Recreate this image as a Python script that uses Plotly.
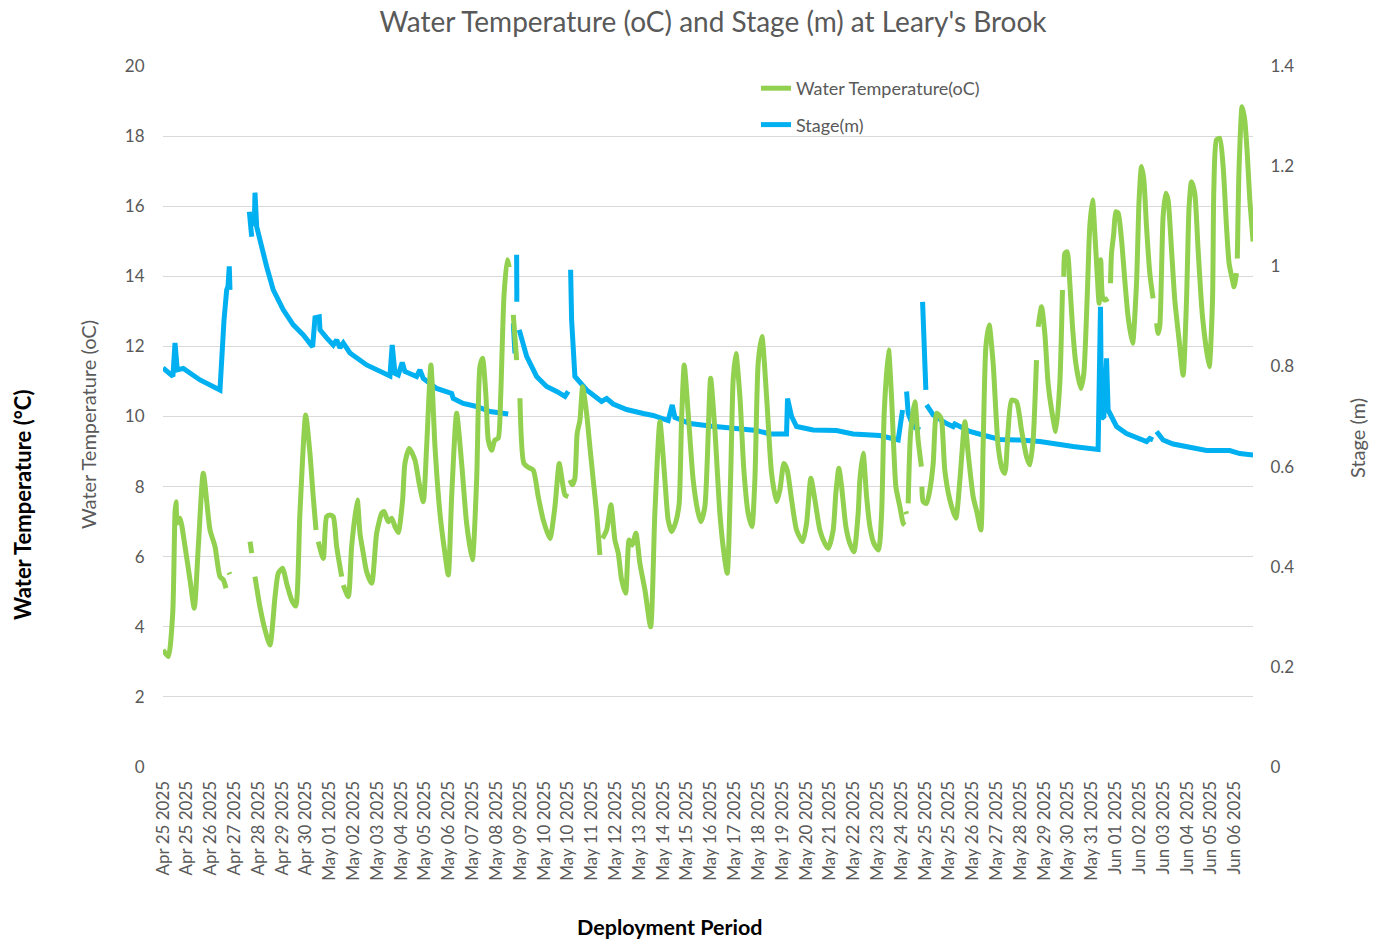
import plotly.graph_objects as go

FONT = "Lato, 'Open Sans', sans-serif"

# ---- category labels (one per day tick, 24 h apart) ----
tick_labels = [
    "Apr 25 2025", "Apr 25 2025", "Apr 26 2025", "Apr 27 2025", "Apr 28 2025", "Apr 29 2025", "Apr 30 2025",
    "May 01 2025", "May 02 2025", "May 03 2025", "May 04 2025", "May 05 2025", "May 06 2025", "May 07 2025",
    "May 08 2025", "May 09 2025", "May 10 2025", "May 10 2025", "May 11 2025", "May 12 2025", "May 13 2025",
    "May 14 2025", "May 15 2025", "May 16 2025", "May 17 2025", "May 18 2025", "May 19 2025", "May 20 2025",
    "May 21 2025", "May 22 2025", "May 23 2025", "May 24 2025", "May 25 2025", "May 25 2025", "May 26 2025",
    "May 27 2025", "May 28 2025", "May 29 2025", "May 30 2025", "May 31 2025", "Jun 01 2025", "Jun 02 2025",
    "Jun 03 2025", "Jun 04 2025", "Jun 05 2025", "Jun 06 2025",
]
tick_hours = [24 * i for i in range(len(tick_labels))]

# ---- water temperature (hours since start, deg C); None = gap in record ----
temp_hours = [
    0, 5.3, 9.8, 12.1, 13.1, 14.4, 17.1, 22.2, 27.2, 31.5, 35.6, 40.6, 47.4, 52.4, 57.4, 60.8, 63.5, None,
    66.5, 67.3, None,
    87.7, 89.4, None,
    92.7, 97.7, 102.8, 107.8, 112.9, 116.2, 120.6, 124.6, 129.7, 133.7, 138, 143.8, 148.1, 151.4, 154.2, None,
    156.5, 161.5, 164.9, 168.3, 171.6, 175, 180.1, None,
    181.7, 186.7, 190.1, 195.8, 198.5, 201.8, 205.2, 210.3, 215.3, 220.4, 222.7, 227, 230.4, 233.8, 237.1,
    241.5, 243.8, 248.2, 253.9, 258.2, 262.3, 265.7, 270, 274.1, 279.1, 284.1, 287.5, 290.9, 295.9, 301,
    306, 311.7, 316.1, 319.4, 322.1, 325.5, 327.8, 331.2, 334.5, 337.8, 340.3, 343.6, 346.9, 348.9, None,
    353, 356.4, None,
    359.7, 363.7, 368.1, 373.1, 378.2, 383.2, 389.9, 395, 399.3, 402.7, 405.1, 408.4, None,
    410.1, 412.6, 415.1, 417.4, 420.2, 422.9, 426.9, 430.2, 433.6, 437, 440.3, None,
    443, 447.1, 451.4, 455.4, 458.8, 462.2, 466.2, 469.8, 472.9, 476.6, 480.6, 485.7, 491.4, 495.7, 500.8,
    505.8, 509.1, 512.6, 516.9, 520.2, 522.6, 525.3, 529.3, 534.3, 539.4, 542.1, 546.1, 548.4, 551.9,
    556.2, 561.2, 565.3, 568.6, 572, 574.6, 577.4, 581.4, 585.4, 589.7, 593.5, 596.5, 599.8, 603.6, 608.3,
    613.3, 618.4, 621.7, 625.7, 629.1, 633.5, 638.5, 644.6, 648.6, 652.9, 657, 662, 667, 670.4, 675.4,
    678.1, 681.1, 683.9, 688.2, 692.2, 696.3, 700.6, 702.3, 705.6, 709.1, 712.4, 716.4, 721.1, 724.2,
    726.8, 731.2, 734.2, 738.6, 742.6, 746, 747.6, None,
    748.6, 749.4, None,
    751, 753.4, 757.7, 761, 764.3, None,
    764.8, 766.1, 769.5, 772.8, 776.2, 779.6, 782.2, 784.6, 787.9, 793, 799, 803.1, 808.1, 811.4, 816.5,
    820.5, 824.2, 826.5, 829.3, 832.6, 836.6, 841.7, 846.1, 848.4, 851.7, 855.2, 860.2, 865.2, 870.3,
    873.6, 876.9, 880.3, None,
    882, 885.4, 888.7, 892, 895.5, 899.8, 903.8, 906.5, None,
    907.8, 908.9, 911.2, 913.9, 916.6, 919.9, 925, 928, 931.3, 934, 936.8, 939.1, 941.4, 943.4, 945.1,
    946.8, 949.2, 952.5, None,
    954.9, 955.9, 958.2, 960.2, 962.6, 966, 969.3, 972.6, 977.1, 981.1, 983.7, 986.1, 988.5, 991.2, 994.5,
    997.8, None,
    1001.3, 1002.9, 1004.6, 1007.9, 1010.6, 1012.9, 1016.4, 1019.7, 1024, 1028.1, 1031.5, 1034.1, 1036.5,
    1039.8, 1043.2, 1047.6, 1054.3, 1057.7, 1059, 1061.7, 1065, 1068.4, 1071.8, 1074.4, 1077.8, 1079.4,
    1081.9, None,
    1082.7, 1084.5, 1087.5, 1090.2, 1092.5, 1095.3, 1098.6,
]
temp_c = [
    3.34, 3.15, 4.38, 7.25, 7.57, 6.96, 7.10, 6.29, 5.34, 4.53, 6.29, 8.38, 6.76, 6.29, 5.43, 5.34, 5.10, None,
    5.55, 5.50, None,
    6.43, 6.10, None,
    5.43, 4.57, 3.91, 3.48, 4.86, 5.53, 5.67, 5.24, 4.76, 4.59, 7.24, 10.04, 8.95, 7.71, 6.76, None,
    6.43, 5.95, 7.14, 7.19, 7.14, 6.29, 5.43, None,
    5.19, 4.86, 6.29, 7.62, 6.67, 6.10, 5.57, 5.24, 6.67, 7.24, 7.29, 7.0, 7.1, 6.86, 6.69,
    7.62, 8.66, 9.09, 8.76, 8.09, 7.57, 9.14, 11.47, 9.14, 7.24, 6.10, 5.48, 7.71, 10.09, 8.66,
    6.95, 5.91, 8.19, 11.42, 11.66, 10.57, 9.33, 9.04, 9.33, 9.38, 10.57, 13.42, 14.47, 14.26, None,
    12.90, 11.61, None,
    10.52, 8.66, 8.55, 8.47, 7.71, 7.05, 6.52, 7.43, 8.66, 8.09, 7.76, 7.71, None,
    8.19, 8.05, 8.24, 9.52, 9.90, 10.85, 10.09, 9.14, 8.19, 7.24, 6.05, None,
    6.52, 6.76, 7.48, 6.48, 6.10, 5.34, 4.96, 6.48, 6.33, 6.67, 5.81, 5.05, 4.00, 7.24, 9.85,
    8.19, 7.05, 6.71, 7.0, 7.52, 9.90, 11.47, 10.09, 8.19, 7.24, 7.0, 7.43, 8.66, 11.09,
    9.61, 7.24, 6.10, 5.53, 8.19, 11.04, 11.80, 10.57, 8.47, 7.24, 6.86, 8.19, 11.52, 12.28, 10.57,
    8.38, 7.57, 7.90, 8.66, 8.47, 7.62, 6.76, 6.43, 6.95, 8.24, 7.62, 6.76, 6.38, 6.24, 6.76,
    7.81, 8.52, 8.0, 6.86, 6.38, 6.14, 7.24, 8.19, 8.95, 7.71, 6.86, 6.38, 6.19, 7.24,
    10.09, 11.90, 10.57, 8.0, 7.43, 6.95, 6.90, None,
    7.29, 7.22, None,
    7.52, 9.52, 10.42, 9.33, 8.57, None,
    8.0, 7.57, 7.52, 7.9, 8.66, 10.09, 10.04, 9.90, 8.47, 7.62, 7.10, 8.19, 9.85, 8.95, 7.71,
    7.24, 6.76, 9.14, 11.99, 12.61, 11.52, 9.14, 8.47, 8.38, 9.61, 10.47, 10.42, 9.61, 8.85,
    8.62, 9.33, 11.61, None,
    12.56, 13.13, 12.37, 10.95, 10.19, 9.57, 10.95, 13.61, None,
    13.99, 14.65, 14.70, 13.80, 12.56, 11.52, 10.80, 11.23, 13.32, 15.41, 16.18, 15.23, 14.09, 13.23, 14.47,
    13.42, 13.32, 13.37, None,
    13.80, 14.65, 15.23, 15.84, 15.80, 15.04, 13.89, 12.85, 12.09, 13.80, 16.18, 17.13, 16.75, 15.41, 14.09,
    13.37, None,
    12.66, 12.37, 12.6, 15.70, 16.37, 16.18, 14.75, 13.32, 12.18, 11.18, 13.32, 15.99, 16.70,
    16.37, 14.75, 12.85, 11.42, 13.32, 16.46, 17.89, 17.94, 17.13, 15.41, 14.37, 13.89, 13.70,
    14.09, None,
    14.51, 17.13, 18.84, 18.46, 17.60, 16.18, 14.99,
]

# ---- stage (hours since start, m); None = gap in record ----
stage_hours = [
    0, 5, 10, 12.1, 14.4, 20.5, 37.3, 57.4, 59.1, 61.5, 64.2, 65.5, 66.8, 67.5, None,
    87.0, 89.4, None,
    92.0, 92.7, 94.4, 97.7, 104.5, 111.1, 121.2, 131.3, 141.4, 150.8, 153.2, 157.5, 158.2, 164.9, 171.6,
    175, 178.3, 181.7, 188.4, 205.2, 218.6, 228.7, 231, 233.8, 237.1, 241.1, 243.8, 255.6, 258.9, 262.3,
    275.8, 290.9, 292.5, 302.6, 316.1, 329.5, 347.9, None,
    353, 354.7, None,
    356.4, 356.6, None,
    359, 366.5, 376.5, 386.6, 396.7, 405.1, 408.4, None,
    410.8, 411.8, 415.1, 426.9, 442, 447.1, 453.7, 467.2, 484, 494, 509.1, 513.2, 515.9, 531, 551.2,
    574.6, 598.2, 611.6, 628.4, 629.4, 633.5, 638.5, 655.2, 678.8, 695.5, 722.4, 740.9, 745.3, None,
    749.4, 751, 756, 762.8, None,
    765.5, 766.8, 768.8, None,
    769.5, 776.2, 789.7, 796.3, 798, 813.1, 829.9, 843.4, 863.5, 883.7, 917.2, 942.4, 944.8, 945.8,
    948.2, 950.9, 952.5, 961, 971, 984.4, 991.2, 994.5, 997.8, None,
    1001.3, 1007.9, 1018, 1034.8, 1051.6, 1075.1, 1085.2, 1098.6,
]
stage_m = [
    0.797, 0.79, 0.780, 0.847, 0.793, 0.796, 0.773, 0.753, 0.827, 0.893, 0.953, 0.96, 1.0, 0.953, None,
    1.109, 1.059, None,
    1.08, 1.147, 1.079, 1.052, 0.999, 0.953, 0.913, 0.883, 0.863, 0.839, 0.897, 0.899, 0.873, 0.857, 0.843,
    0.853, 0.837, 0.847, 0.827, 0.803, 0.79, 0.781, 0.843, 0.786, 0.783, 0.808, 0.79, 0.78, 0.793, 0.776,
    0.756, 0.746, 0.736, 0.726, 0.72, 0.71, 0.705, None,
    0.886, 0.826, None,
    1.023, 0.929, None,
    0.873, 0.82, 0.78, 0.76, 0.75, 0.74, 0.75, None,
    0.993, 0.893, 0.78, 0.753, 0.73, 0.736, 0.725, 0.714, 0.706, 0.702, 0.692, 0.723, 0.698, 0.686, 0.681,
    0.676, 0.672, 0.665, 0.665, 0.736, 0.70, 0.68, 0.673, 0.672, 0.665, 0.662, 0.653, 0.713, None,
    0.75, 0.706, 0.68, 0.673, None,
    0.929, 0.82, 0.753, None,
    0.723, 0.703, 0.686, 0.68, 0.685, 0.67, 0.661, 0.654, 0.653, 0.65, 0.64, 0.634, 0.919, 0.696,
    0.70, 0.816, 0.713, 0.68, 0.666, 0.656, 0.65, 0.656, 0.653, None,
    0.67, 0.653, 0.645, 0.638, 0.632, 0.632, 0.626, 0.623,
]

GRAY = "#595959"
GRID = "#d9d9d9"

fig = go.Figure()
# stage on primary y (right side), temperature on overlaying y2 (left side) so it draws on top
fig.add_trace(go.Scatter(
    x=stage_hours, y=stage_m, name="Stage(m)", mode="lines", yaxis="y",
    line=dict(color="#00B0F0", width=5), connectgaps=False, legendrank=2, legendgroup="b",
))
fig.add_trace(go.Scatter(
    x=temp_hours, y=temp_c, name="Water Temperature(oC)", mode="lines", yaxis="y2",
    line=dict(color="#92D050", width=5, shape="spline", smoothing=0.6), connectgaps=False,
    legendrank=1, legendgroup="a",
))

fig.update_layout(
    width=1377, height=941,
    margin=dict(l=163, r=124, t=66, b=174),
    paper_bgcolor="white", plot_bgcolor="white",
    font=dict(family=FONT, color=GRAY),
    title=dict(text="Water Temperature (oC) and Stage (m) at Leary's Brook",
               x=713 / 1377, xref="container", xanchor="center",
               y=1 - 22 / 941, yref="container", yanchor="middle",
               font=dict(size=28, color=GRAY, family=FONT)),
    xaxis=dict(range=[0, 1098.5], tickmode="array", tickvals=tick_hours, ticktext=tick_labels,
               tickangle=-90, tickfont=dict(size=17, color=GRAY), showgrid=False, zeroline=False,
               showline=False, ticks="outside", ticklen=6, tickcolor="rgba(0,0,0,0)"),
    yaxis=dict(side="right", range=[0, 1.4], dtick=0.2, tick0=0, showgrid=False, zeroline=False,
               tickfont=dict(size=17, color=GRAY), ticks="outside", ticklen=13,
               tickcolor="rgba(0,0,0,0)", showline=False),
    yaxis2=dict(side="left", overlaying="y", range=[0, 20], dtick=2, tick0=0, showgrid=True,
                gridcolor=GRID, gridwidth=1, zeroline=False, tickfont=dict(size=17, color=GRAY),
                ticks="outside", ticklen=14, tickcolor="rgba(0,0,0,0)", showline=False),
    legend=dict(x=(756 - 163) / 1090, y=(767 - 70) / 701, xanchor="left", yanchor="top",
                bgcolor="rgba(0,0,0,0)", traceorder="grouped", tracegroupgap=10,
                font=dict(size=18, color=GRAY, family=FONT)),
    showlegend=True,
)

annotations = [
    dict(text="Water Temperature (oC)", x=(88 - 163) / 1090, y=(767 - 425) / 701, textangle=-90,
         font=dict(size=20, color=GRAY)),
    dict(text="<b>Water Temperature (°C)</b>", x=(22 - 163) / 1090, y=(767 - 505) / 701, textangle=-90,
         font=dict(size=22, color="black")),
    dict(text="Stage (m)", x=(1357 - 163) / 1090, y=(767 - 438) / 701, textangle=-90,
         font=dict(size=20, color=GRAY)),
    dict(text="<b>Deployment Period</b>", x=(670 - 163) / 1090, y=(767 - 927) / 701,
         font=dict(size=21.5, color="black")),
]
for a in annotations:
    a.update(xref="paper", yref="paper", showarrow=False, xanchor="center", yanchor="middle")
fig.update_layout(annotations=annotations)

# remove the browser's default 8px page margin so the figure sits at the window origin
fig.write_html("out.html", config={"displayModeBar": False},
               post_script="document.body.style.margin='0';")
